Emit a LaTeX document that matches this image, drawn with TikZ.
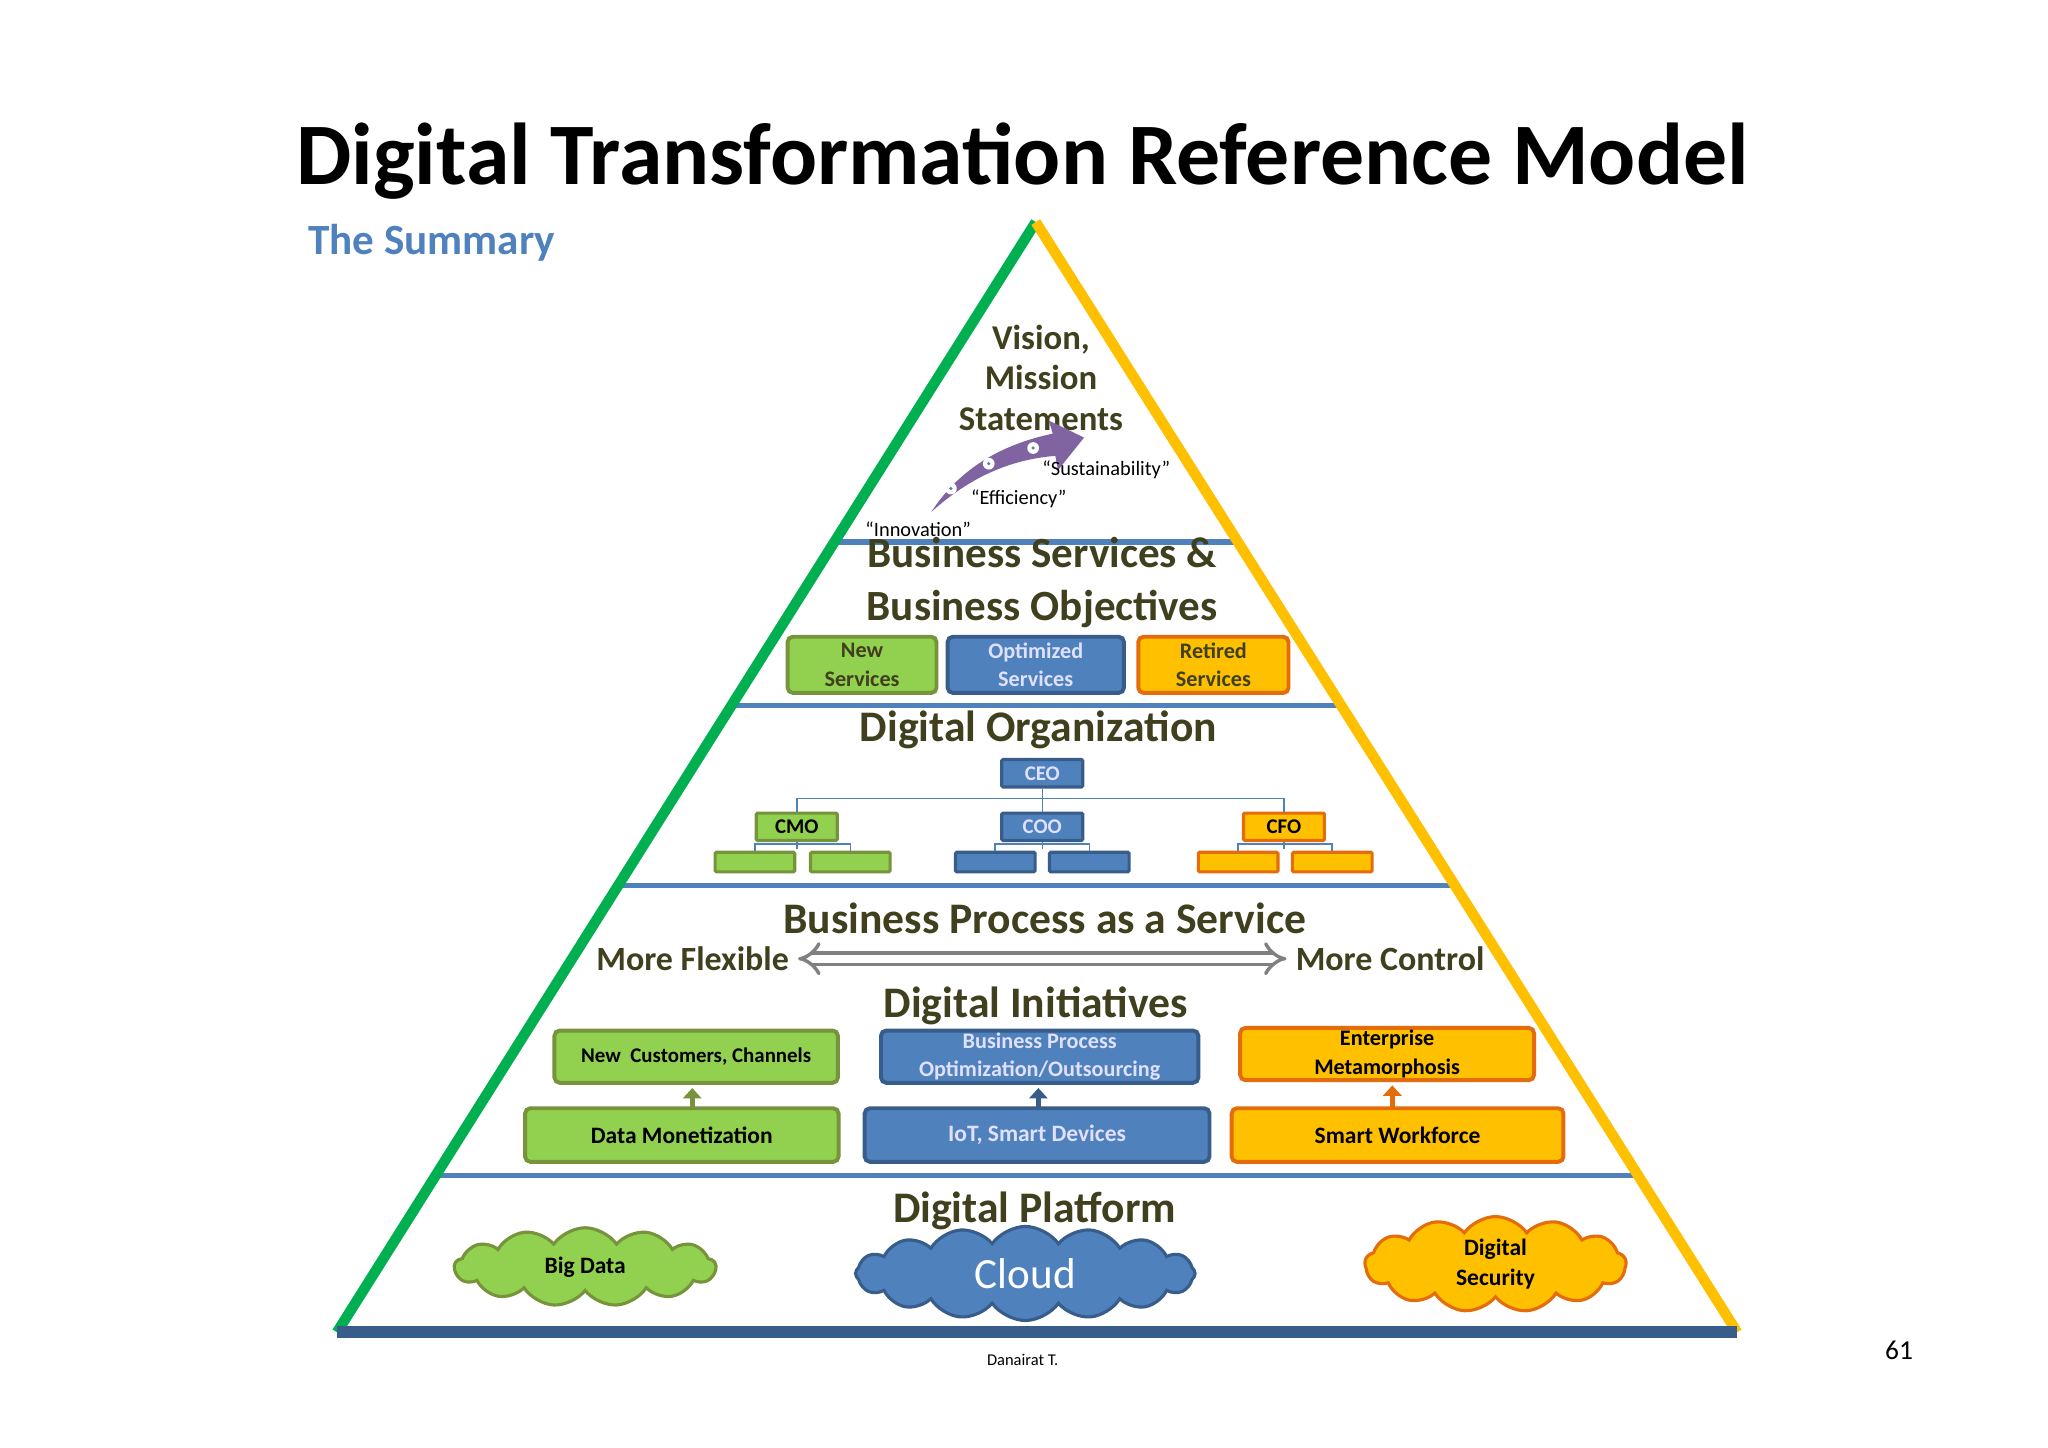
\documentclass[tikz,border=0pt]{standalone}
\usepackage{fontspec}
\setmainfont{Carlito}
\usetikzlibrary{shapes.symbols,arrows.meta}
\definecolor{txt}{HTML}{40401F}
\definecolor{gfill}{HTML}{92D050}\definecolor{gline}{HTML}{77933C}
\definecolor{bfill}{HTML}{4F81BD}\definecolor{bline}{HTML}{385D8A}
\definecolor{yfill}{HTML}{FFC000}\definecolor{yline}{HTML}{E46C0A}
\definecolor{pyrgreen}{HTML}{00B050}\definecolor{purp}{HTML}{8064A2}
\newcommand\fsz[2]{\fontsize{#1pt}{#2pt}\selectfont}
\tikzset{
 gbox/.style={draw=gline,fill=gfill,line width=1.5pt,rounded corners=2pt,text=black,font=\bfseries\fsz{8.5}{11},align=center,inner sep=0pt},
 bbox/.style={gbox,draw=bline,fill=bfill,text=white!88!blue},
 ybox/.style={gbox,draw=yline,fill=yfill},
 head/.style={text=txt,font=\bfseries\fsz{16.7}{18}},
 org/.style={draw=bfill,line width=0.6pt},
 cl/.style={cloud,cloud puffs=13,cloud puff arc=110,aspect=3,line width=1.2pt,font=\bfseries\fsz{9}{11.5},align=center,inner sep=0pt}
}
\begin{document}
\begin{tikzpicture}[x=0.5pt,y=-0.5pt]
\useasboundingbox[fill=white] (0,0) rectangle (1568,1108);
\coordinate (apex) at (793,170);\coordinate (bl) at (258,1020);\coordinate (br) at (1330,1020);
\node[font=\bfseries\fsz{33.6}{36},text=black] (title) at (783,123) {Digital Transformation Reference Model};
\node[anchor=west,font=\bfseries\fsz{16.5}{18},text=bfill] (sub) at (229,186) {The Summary};
\begin{scope}
\clip (apex)--(bl)--(br)--cycle;
\foreach \y in {415,540,678,900}{\draw[bfill,line width=2pt] (200,\y)--(1400,\y);}
\end{scope}
% vision
\node[text=txt,font=\bfseries\fsz{13.3}{15.5},align=center] (vis) at (797,289) {Vision,\\Mission\\Statements};
\fill[purp] (713,392) .. controls (735,358) and (768,340) .. (806,332) -- (803,322) -- (830,335) -- (810,360) -- (808,349) .. controls (772,352) and (742,366) .. (713,392) -- cycle;
\foreach \p in {(728,374),(757,355),(791,343)}{\fill[white] \p circle (4.5);\fill[bfill] \p circle (1.3);}
\node[font=\fsz{7.8}{9}] (q1) at (847,360) {“Sustainability”};
\node[font=\fsz{7.8}{9}] (q2) at (780,382) {“Efficiency”};
\node[font=\fsz{7.8}{9}] (q3) at (703,405) {“Innovation”};
% services
\node[head,align=center,font=\bfseries\fsz{16.5}{20}] (bs) at (798,446) {Business Services \&\\Business Objectives};
\node[gbox,minimum width=57pt,minimum height=21.5pt,text=txt] (ns) at (660,509) {New\\Services};
\node[bbox,minimum width=67.5pt,minimum height=21.5pt] (os) at (793,509) {Optimized\\Services};
\node[ybox,minimum width=57.5pt,minimum height=21.5pt,text=txt] (rs) at (929,509) {Retired\\Services};
% organization
\node[head] (dorg) at (795,559) {Digital Organization};
\tikzset{ob/.style={minimum width=31pt,minimum height=10.5pt,line width=1.2pt,rounded corners=0.5pt,font=\bfseries\fsz{8}{9}},
 sb/.style={minimum width=30.5pt,minimum height=7.5pt,line width=1.2pt,rounded corners=0.5pt}}
\node[bbox,ob] (ceo) at (798,592) {CEO};
\node[gbox,ob] (cmo) at (610,633) {CMO};
\node[bbox,ob] (coo) at (798,633) {COO};
\node[ybox,ob] (cfo) at (983,633) {CFO};
\node[gbox,sb] (g1) at (578,660) {};\node[gbox,sb] (g2) at (651,660) {};
\node[bbox,sb] (b1) at (762,660) {};\node[bbox,sb] (b2) at (834,660) {};
\node[ybox,sb] (y1) at (948,660) {};\node[ybox,sb] (y2) at (1020,660) {};
\draw[org] (ceo.south)--(coo.north);
\draw[org] (cmo.north)--++(0,-10)-|(cfo.north);
\foreach \a/\l/\r in {cmo/g1/g2,coo/b1/b2,cfo/y1/y2}{
 \draw[org] (\a.south)--++(0,5);
 \draw[org] (\l.north)--++(0,-5)-|(\r.north);}
% BPaaS
\node[head] (bp) at (800,703) {Business Process as a Service};
\node[anchor=east,text=txt,font=\bfseries\fsz{13}{15}] (mf) at (611,734) {More Flexible};
\node[anchor=west,text=txt,font=\bfseries\fsz{13}{15}] (mc) at (985,734) {More Control};
\draw[gray,double=white,double distance=3pt,line width=1.3pt,{Implies[length=6pt]}-{Implies[length=6pt]}] (mf.east)--(mc.west);
% initiatives
\node[head] (di) at (793,770) {Digital Initiatives};
\node[gbox,minimum width=108.5pt,minimum height=20pt,text=black,font=\bfseries\fsz{8}{10}] (nc) at (533,809) {New\ \ Customers, Channels};
\node[bbox,minimum width=121.5pt,minimum height=20pt,font=\bfseries\fsz{8.5}{11}] (bpo) at (796,809) {Business Process\\Optimization/Outsourcing};
\node[ybox,minimum width=112.5pt,minimum height=20pt,text=black,font=\bfseries\fsz{8.5}{11}] (em) at (1062,807) {Enterprise\\Metamorphosis};
\node[gbox,minimum width=120pt,minimum height=20.5pt,text=black,font=\bfseries\fsz{9}{11}] (dm) at (522,869) {Data Monetization};
\node[bbox,minimum width=132pt,minimum height=20.5pt,font=\bfseries\fsz{9}{11}] (iot) at (794,869) {IoT, Smart Devices};
\node[ybox,minimum width=127pt,minimum height=20.5pt,text=black,font=\bfseries\fsz{9}{11}] (sw) at (1070,869) {Smart Workforce};
\draw[-{Triangle[length=4pt,width=7pt]},line width=2pt,gline] (530,848)--(530,833);
\draw[-{Triangle[length=4pt,width=7pt]},line width=2pt,bline] (795,848)--(795,833);
\draw[-{Triangle[length=4pt,width=7pt]},line width=2pt,yline] (1066,848)--(1066,831);
% platform
\node[head] (dp) at (792,927) {Digital Platform};
\node[cl,draw=gline,fill=gfill,minimum width=100pt,minimum height=30pt] (bd) at (448,970) {Big Data};
\node[cl,draw=bline,fill=bfill,minimum width=130pt,minimum height=36pt,cloud puffs=16,aspect=3.6,text=white,font=\fsz{16.5}{18}] (cloud) at (785,975) {Cloud};
\node[cl,draw=yline,fill=yfill,minimum width=100pt,minimum height=30pt] (ds) at (1145,968) {Digital\\Security};
% pyramid edges
\draw[pyrgreen,line width=4pt] (bl)--(apex);
\draw[yfill,line width=4pt] (apex)--(br);
\draw[bline,line width=4.5pt] (bl)--(br);
\node[font=\fsz{6.3}{7}] (auth) at (783,1041) {Danairat T.};
\node[font=\fsz{10.5}{12}] (pg) at (1454,1034) {61};
\end{tikzpicture}
\end{document}
